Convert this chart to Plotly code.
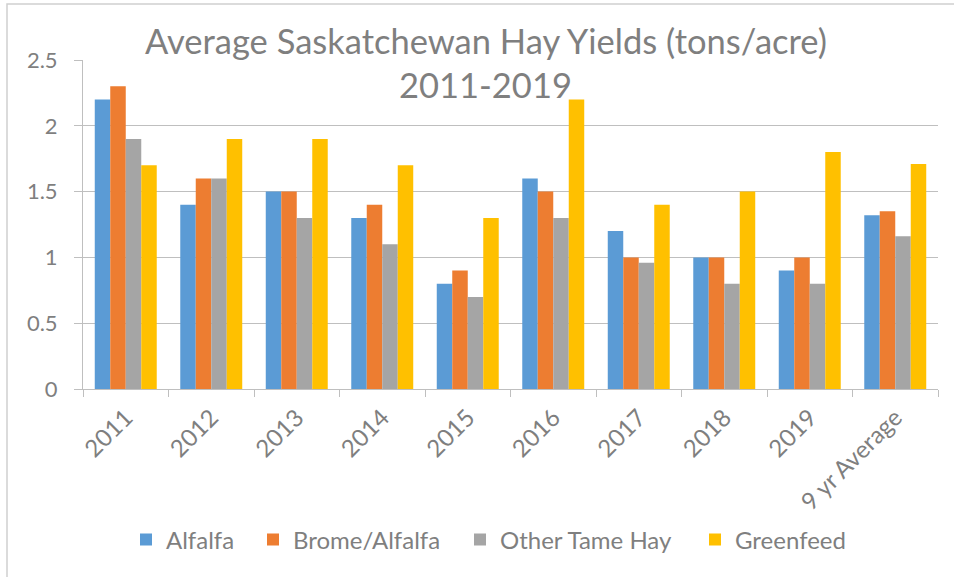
import plotly.graph_objects as go

categories = ["2011", "2012", "2013", "2014", "2015", "2016", "2017", "2018", "2019", "9 yr Average"]
alfalfa = [2.2, 1.4, 1.5, 1.3, 0.8, 1.6, 1.2, 1.0, 0.9, 1.32]
brome_alfalfa = [2.3, 1.6, 1.5, 1.4, 0.9, 1.5, 1.0, 1.0, 1.0, 1.35]
other_tame_hay = [1.9, 1.6, 1.3, 1.1, 0.7, 1.3, 0.96, 0.8, 0.8, 1.16]
greenfeed = [1.7, 1.9, 1.9, 1.7, 1.3, 2.2, 1.4, 1.5, 1.8, 1.71]
series_names = ["Alfalfa", "Brome/Alfalfa", "Other Tame Hay", "Greenfeed"]
colors = ["#5B9BD5", "#ED7D31", "#A5A5A5", "#FFC000"]
y_ticks = [0, 0.5, 1, 1.5, 2, 2.5]
y_tick_text = ["0", "0.5", "1", "1.5", "2", "2.5"]

FONT = "Lato"
GREY = "#7f7f7f"

W, H = 954, 577
L, R, T, B = 83, 16, 60, 188
pw, ph = W - L - R, H - T - B

def px_x(p):
    return (p - L) / pw

def px_y(p):
    return (H - B - p) / ph

legend_ids = ["legend", "legend2", "legend3", "legend4"]
legend_square_px = [142, 269, 476, 711]

fig = go.Figure()
for name, vals, c, lid in zip(series_names, [alfalfa, brome_alfalfa, other_tame_hay, greenfeed], colors, legend_ids):
    fig.add_trace(go.Bar(name=name, x=categories, y=vals, legend=lid,
                         marker=dict(color=c, line=dict(width=0))))

legend_layouts = {}
for lid, sx in zip(legend_ids, legend_square_px):
    legend_layouts[lid] = dict(
        orientation="h", x=px_x(sx - 16), xanchor="left", y=px_y(540), yanchor="middle",
        font=dict(size=24, color=GREY, family=FONT), itemwidth=30, bgcolor="rgba(0,0,0,0)",
    )

fig.update_layout(
    width=W, height=H,
    margin=dict(l=L, r=R, t=T, b=B),
    paper_bgcolor="white", plot_bgcolor="white",
    barmode="group", bargap=0.275, bargroupgap=0,
    font=dict(family=FONT, color=GREY, size=22),
    showlegend=True,
    xaxis=dict(
        type="category", showgrid=False, showline=True, linecolor="#BFBFBF", linewidth=1,
        ticks="outside", tickson="boundaries", ticklen=7, tickcolor="#BFBFBF",
        tickangle=-45, tickfont=dict(size=24, color=GREY), range=[-0.5, 9.5],
        ticklabelstandoff=4,
    ),
    yaxis=dict(
        range=[0, 2.5], tickvals=y_ticks, ticktext=y_tick_text,
        showgrid=True, gridcolor="#BFBFBF", gridwidth=1,
        showline=True, linecolor="#BFBFBF", linewidth=1,
        ticks="outside", ticklen=8, tickcolor="#BFBFBF",
        tickfont=dict(size=22, color=GREY), zeroline=False, ticklabelstandoff=12,
    ),
    annotations=[
        dict(text="Average Saskatchewan Hay Yields (tons/acre)", xref="paper", yref="paper",
             x=px_x(486), y=px_y(40), xanchor="center", yanchor="middle", showarrow=False,
             font=dict(size=34.5, color=GREY, family=FONT)),
        dict(text="2011-2019", xref="paper", yref="paper",
             x=px_x(485), y=px_y(84), xanchor="center", yanchor="middle", showarrow=False,
             font=dict(size=34.5, color=GREY, family=FONT)),
    ],
    shapes=[
        dict(type="rect", xref="paper", yref="paper", x0=px_x(7), x1=px_x(1000), y0=px_y(600), y1=px_y(4),
             line=dict(color="#D0D0D0", width=1.5), fillcolor="rgba(0,0,0,0)", layer="below"),
    ],
    **legend_layouts,
)

fig.write_html("out.html", post_script="document.body.style.margin='0';",
               config={"displayModeBar": False})
